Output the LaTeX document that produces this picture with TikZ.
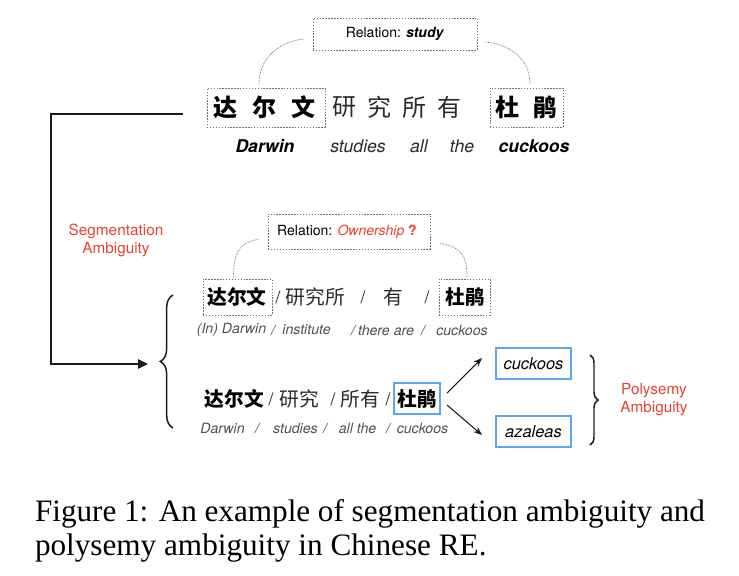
\documentclass[tikz,border=0pt]{standalone}
\usepackage{fontspec}
\setmainfont{Liberation Serif}
\newfontfamily\hv{TeX Gyre Heros}
\newfontfamily\cjk{Noto Sans CJK SC}
\usetikzlibrary{arrows.meta,decorations.pathreplacing,calc}
\definecolor{redc}{HTML}{E5432F}
\definecolor{boxblue}{HTML}{5AA8EE}
\definecolor{boxgray}{HTML}{707070}
\definecolor{txtdark}{HTML}{2A2A2A}
\definecolor{txtgray}{HTML}{505050}
\definecolor{lined}{HTML}{1A1A1A}
\tikzset{
  every node/.style={inner sep=0pt, outer sep=0pt},
  dbox/.style={draw=boxgray, dash pattern=on 1.1pt off 1.1pt, line width=0.7pt, inner sep=0pt},
  bluebox/.style={draw=boxblue, line width=1.1pt, inner sep=0pt},
  curvy/.style={draw=boxgray, dash pattern=on 0.5pt off 0.7pt, line width=0.6pt},
  zhbig/.style={font=\cjk\fontsize{18}{20}\selectfont, text=txtdark},
  zhbigb/.style={font=\cjk\bfseries\fontsize{18}{20}\selectfont},
  zh/.style={font=\cjk\fontsize{14.8}{16}\selectfont, text=txtdark},
  zhb/.style={font=\cjk\bfseries\fontsize{14.8}{16}\selectfont},
  slashmark/.style={font=\hv\fontsize{13}{15}\selectfont, text=txtdark},
  entop/.style={font=\hv\itshape\fontsize{13.2}{15}\selectfont, text=txtdark},
  entopb/.style={font=\hv\bfseries\itshape\fontsize{13.2}{15}\selectfont},
  ensmall/.style={font=\hv\itshape\fontsize{10.6}{12}\selectfont, text=txtgray},
  rellab/.style={font=\hv\fontsize{10.5}{12}\selectfont},
  redlab/.style={font=\hv\fontsize{11.5}{13.2}\selectfont, text=redc, align=center},
  boxword/.style={font=\hv\itshape\fontsize{12.3}{14}\selectfont},
  bracestyle/.style={draw=lined, line width=1.1pt, decorate},
  caption/.style={font=\fontsize{23.4}{26}\selectfont, anchor=base west},
}
\begin{document}
\begin{tikzpicture}[x=0.75pt,y=-0.75pt]
\useasboundingbox (0,0) rectangle (739,575);

% ---------- top sentence ----------
\node[dbox, minimum width=123pt, minimum height=24pt] (rel1) at (395,34) {};
\node[rellab] (rel1t) at (395,34) {Relation: \textbf{\textit{study}}};

\node[dbox, minimum width=88.5pt, minimum height=29.25pt] (tb1) at (266,107.5) {};
\node[dbox, minimum width=54.75pt, minimum height=29.25pt] (tb2) at (526.5,107.5) {};

\node[zhbigb] (t1) at (225,107.5) {达};
\node[zhbigb] (t2) at (264,107.5) {尔};
\node[zhbigb] (t3) at (303,107.5) {文};
\node[zhbig] (t4) at (344,107.5) {研};
\node[zhbig] (t5) at (379,107.5) {究};
\node[zhbig] (t6) at (414,107.5) {所};
\node[zhbig] (t7) at (449,107.5) {有};
\node[zhbigb] (t8) at (507,107.5) {杜};
\node[zhbigb] (t9) at (545,107.5) {鹃};

\node[entopb] (e1) at (265,146) {Darwin};
\node[entop] (e2) at (358,146) {studies};
\node[entop] (e3) at (419,146) {all};
\node[entop] (e4) at (462,146) {the};
\node[entopb] (e5) at (534,146) {cuckoos};

\draw[curvy] ($(tb1.north west)+(52,-4)$) .. controls +(0,-28) and +(-22,2) .. ($(rel1.west)+(-9,5)$);
\draw[curvy] ($(rel1.east)+(8,8)$) .. controls +(24,2) and +(0,-26) .. ($(tb2.north)+(3.5,-4)$);

% ---------- left connector ----------
\coordinate (cs) at (183,114);
\coordinate (ce) at (148,364);
\draw[draw=lined, line width=1.5pt, -{Triangle[length=7.5pt,width=7pt]}] (cs) -- ++(-132,0) |- (ce);

\node[redlab] (seg) at (116,240.5) {Segmentation\\Ambiguity};

% ---------- middle sentence ----------
\node[dbox, minimum width=121.5pt, minimum height=26.25pt] (rel2) at (349,231.5) {};
\node[rellab] (rel2t) at (347,231.5) {Relation: \textcolor{redc}{\textit{Ownership}} \textcolor{redc}{\textbf{?}}};

\node[dbox, minimum width=51.75pt, minimum height=27pt] (mb1) at (237.5,297) {};
\node[dbox, minimum width=38.25pt, minimum height=27pt] (mb2) at (464.5,297) {};

\node[zhb] (m1) at (237,297) {达尔文};
\node[slashmark] (ms1) at (278,297) {/};
\node[zh] (m2) at (315.5,297) {研究所};
\node[slashmark] (ms2) at (363,297) {/};
\node[zh] (m3) at (393.5,297) {有};
\node[slashmark] (ms3) at (427,297) {/};
\node[zhb] (m4) at (465,297) {杜鹃};

\node[ensmall] (n1) at (231.5,330) {(In) Darwin};
\node[ensmall] (n2) at (273,330) {/};
\node[ensmall] (n3) at (306.5,330) {institute};
\node[ensmall] (n4) at (353,330) {/};
\node[ensmall] (n5) at (386,330) {there are};
\node[ensmall] (n6) at (423,330) {/};
\node[ensmall] (n7) at (462,330) {cuckoos};

\draw[curvy] ($(mb1.north)+(-4,-2)$) .. controls +(0,-25) and +(-18,3) .. ($(rel2.west)+(-10,8)$);
\draw[curvy] ($(rel2.east)+(10,12)$) .. controls +(18,3) and +(0,-25) .. ($(mb2.north)+(2.5,-2)$);

% left brace
\draw[bracestyle, decoration={brace, amplitude=9.5pt}] (173,428) -- (173,295);

% ---------- bottom sentence ----------
\node[bluebox, minimum width=34.5pt, minimum height=23.25pt] (bb) at (417,398.5) {};
\node[zhb] (b1) at (234.5,399) {达尔文};
\node[slashmark] (bs1) at (271,399) {/};
\node[zh] (b2) at (299.5,399) {研究};
\node[slashmark] (bs2) at (333,399) {/};
\node[zh] (b3) at (360,399) {所有};
\node[slashmark] (bs3) at (388,399) {/};
\node[zhb] (b4) at (417,399) {杜鹃};

\node[ensmall] (d1) at (222.5,428) {Darwin};
\node[ensmall] (d2) at (257,428) {/};
\node[ensmall] (d3) at (295.5,428) {studies};
\node[ensmall] (d4) at (325,428) {/};
\node[ensmall] (d5) at (357.5,428) {all the};
\node[ensmall] (d6) at (388,428) {/};
\node[ensmall] (d7) at (422.5,428) {cuckoos};

% senses
\node[bluebox, minimum width=56.25pt, minimum height=23.25pt, boxword] (c1) at (533.5,363.5) {cuckoos};
\node[bluebox, minimum width=56.25pt, minimum height=23.25pt, boxword] (c2) at (533.5,431.5) {azaleas};

\coordinate (p1s) at ($(bb.east)+(7,-5.5)$);
\coordinate (p1e) at ($(c1.west)+(-14,-5.5)$);
\coordinate (p2s) at ($(bb.east)+(7,6.5)$);
\coordinate (p2e) at ($(c2.west)+(-14,3.5)$);
\draw[draw=lined, line width=0.8pt, -{Stealth[length=6.5pt,width=5pt]}] (p1s) -- (p1e);
\draw[draw=lined, line width=0.8pt, -{Stealth[length=6.5pt,width=5pt]}] (p2s) -- (p2e);

\draw[bracestyle, decoration={brace, amplitude=6pt}] (590,355) -- (590,445);
\node[redlab] (poly) at (654,399.5) {Polysemy\\Ambiguity};

% ---------- caption ----------
\node[caption] (cap1) at (35,521) {\makebox[502.5pt][s]{Figure 1: An example of segmentation ambiguity and}};
\node[caption] (cap2) at (35,555) {polysemy ambiguity in Chinese RE.};
\end{tikzpicture}
\end{document}
